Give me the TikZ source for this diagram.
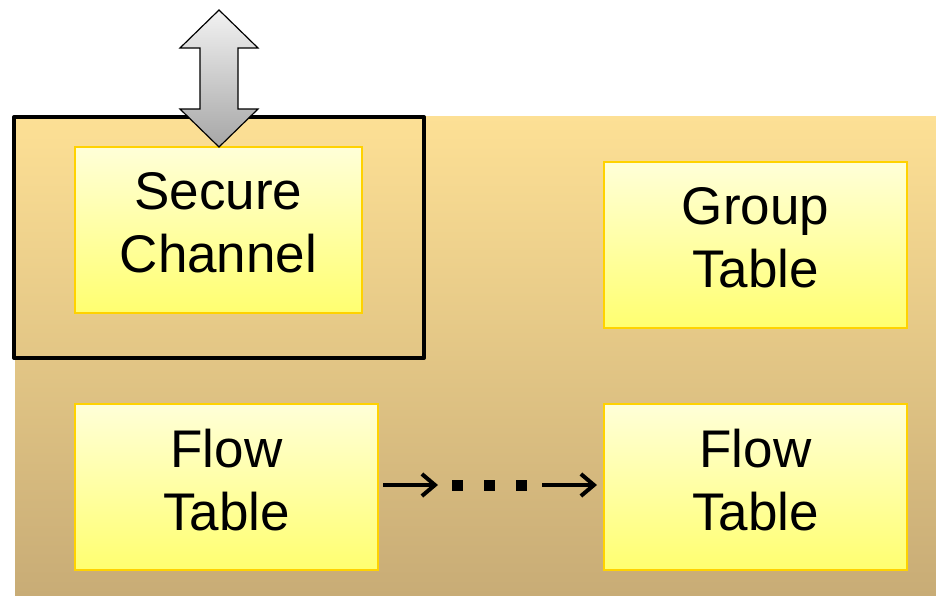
\documentclass[tikz,border=0pt]{standalone}
\usepackage{fontspec}
\setmainfont{Liberation Sans}
\usetikzlibrary{arrows.meta}
\definecolor{bgtop}{HTML}{FDE095}
\definecolor{bgbot}{HTML}{C8AC76}
\definecolor{boxtop}{HTML}{FFFFD8}
\definecolor{boxbot}{HTML}{FFFF70}
\definecolor{boxline}{HTML}{FFD200}
\definecolor{arrtop}{HTML}{F2F2F2}
\definecolor{arrbot}{HTML}{A6A6A6}
\begin{document}
\begin{tikzpicture}[x=1pt,y=-1pt,
  tablebox/.style={draw=boxline, line width=2pt, top color=boxtop, bottom color=boxbot,
    minimum width=#1, minimum height=166pt, inner sep=0pt},
  boxtext/.style={align=center, yshift=7pt, inner sep=0pt,
    font=\fontsize{53}{63}\selectfont},
  conn/.style={line width=4pt, -{Straight Barb[length=13pt,width=22pt,line width=4pt]}},
  dotsq/.style={fill=black}]
\useasboundingbox (0,0) rectangle (936,595);
% background
\shade[top color=bgtop, bottom color=bgbot] (15,116) rectangle (936,595);
% black frame
\draw[line width=4pt, line join=round] (14,117) rectangle (424,358);
% boxes
\node[tablebox=287pt, label={[boxtext]center:Secure\\Channel}] (sc) at (218.5,230) {};
\node[tablebox=303pt, label={[boxtext]center:Group\\Table}] (gt) at (755.5,245) {};
\node[tablebox=303pt, label={[boxtext]center:Flow\\Table}] (ft1) at (226.5,487) {};
\node[tablebox=303pt, label={[boxtext]center:Flow\\Table}] (ft2) at (755.5,487) {};
% double arrow
\shade[top color=arrtop, bottom color=arrbot, draw=black, line width=1.2pt, line join=miter]
  (219,10) -- (258,48) -- (238,48) -- (238,109) -- (258,109) -- (219,147)
  -- (180,109) -- (200,109) -- (200,48) -- (180,48) -- cycle;
% connectors
\coordinate (c1) at (438,485);
\coordinate (c2) at (542,485);
\draw[conn] ([xshift=4pt]ft1.east |- c1) -- (c1);
\fill[dotsq] (452,480) rectangle (463,491);
\fill[dotsq] (484,480) rectangle (495,491);
\fill[dotsq] (516,480) rectangle (527,491);
\draw[conn] (c2) -- ([xshift=-6pt]ft2.west |- c2);
\end{tikzpicture}
\end{document}
